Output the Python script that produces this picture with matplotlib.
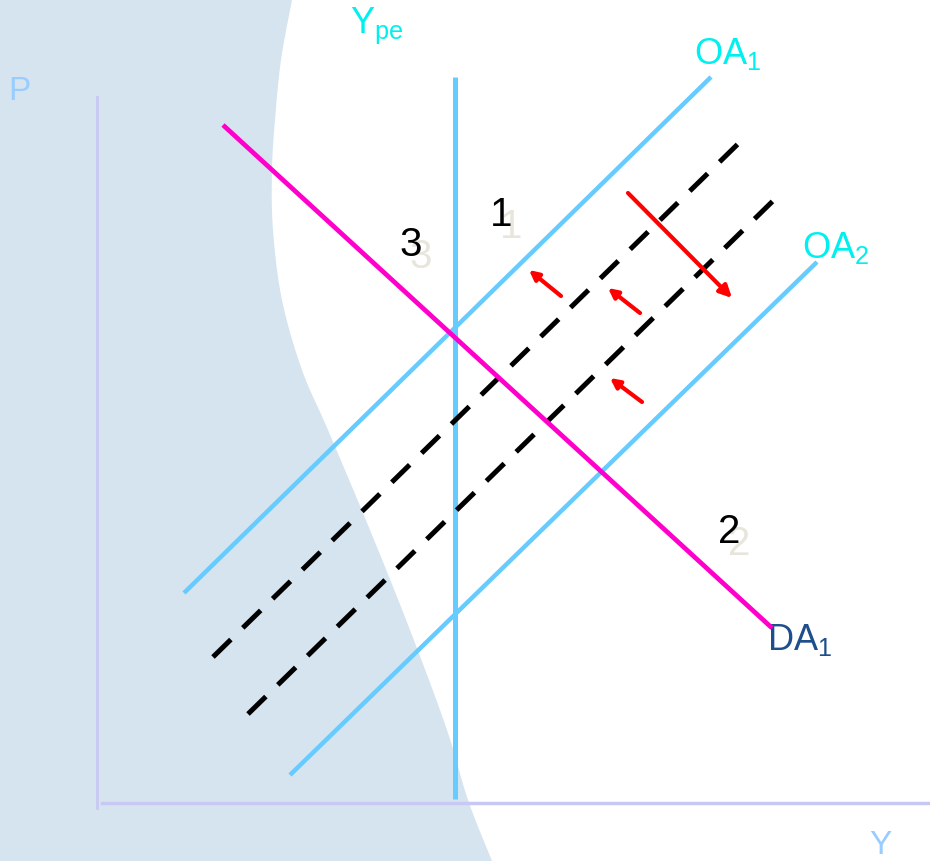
import matplotlib
matplotlib.use("Agg")
import matplotlib.pyplot as plt
import numpy as np

plt.rcParams['font.family'] = ['Liberation Sans', 'DejaVu Sans']
plt.rcParams['mathtext.fontset'] = 'custom'
plt.rcParams['mathtext.rm'] = 'Liberation Sans'
plt.rcParams['lines.scale_dashes'] = False

# ---- data (diagram units, y downward) ----
bg_edge_y = [0, 60, 120, 170, 230, 300, 370, 430, 530, 630, 730, 800, 861]
bg_edge_x = [292, 281, 275, 272, 273, 282, 302, 328, 370, 410, 447, 468, 492]

ype_x = [455, 455]
ype_y = [77, 799]
oa1_x = [184, 711]
oa1_y = [593, 77]
oa2_x = [290, 817]
oa2_y = [775, 262]
da1_x = [223, 772]
da1_y = [125, 628]
dash1_x = [213, 742]
dash1_y = [657, 140]
dash2_x = [248, 778]
dash2_y = [714, 196]

big_arrow = [(628, 193), (732, 298)]
small_arrows = [((561, 296), (529, 270)),
                ((640, 313), (608, 288)),
                ((642, 402), (610, 378))]


def catmull(xs, ys, n=20):
    pts = np.column_stack([xs, ys]).astype(float)
    pts = np.vstack([pts[0], pts, pts[-1]])
    out = []
    for i in range(1, len(pts) - 2):
        p0, p1, p2, p3 = pts[i - 1], pts[i], pts[i + 1], pts[i + 2]
        for t in np.linspace(0, 1, n, endpoint=False):
            t2, t3 = t * t, t * t * t
            out.append(0.5 * ((2 * p1) + (-p0 + p2) * t +
                              (2 * p0 - 5 * p1 + 4 * p2 - p3) * t2 +
                              (-p0 + 3 * p1 - 3 * p2 + p3) * t3))
    out.append(pts[-2])
    out = np.array(out)
    return out[:, 0], out[:, 1]


fig = plt.figure(figsize=(9.30, 8.61), dpi=100)
ax = fig.add_axes([0, 0, 1, 1])
ax.set_xlim(0, 930)
ax.set_ylim(861, 0)
ax.axis('off')

# background shape
cx, cy = catmull(bg_edge_x, bg_edge_y)
poly_x = np.concatenate([[0], cx, [0]])
poly_y = np.concatenate([[0], cy, [861]])
ax.fill(poly_x, poly_y, color='#d6e4f0', lw=0, zorder=0)

# axes
ax.plot([97, 97], [97, 808], color='#c8c8f4', lw=2, zorder=1)
ax.plot([102, 930], [803, 803], color='#c8c8f4', lw=2.5, zorder=1)
ax.text(8, 92, 'P', color='#99ccff', fontsize=24, va='center', ha='left')
ax.text(869, 846, 'Y', color='#99ccff', fontsize=24, va='center', ha='left')

lc = '#66ccff'
ax.plot(ype_x, ype_y, color=lc, lw=3.6, solid_capstyle='butt', zorder=2)
ax.plot(oa1_x, oa1_y, color=lc, lw=3.2, solid_capstyle='butt', zorder=2)
ax.plot(oa2_x, oa2_y, color=lc, lw=3.2, solid_capstyle='butt', zorder=2)
ax.plot(dash1_x, dash1_y, color='black', lw=3.6, dashes=(18, 12),
        dash_capstyle='butt', zorder=3)
ax.plot(dash2_x, dash2_y, color='black', lw=3.6, dashes=(18, 12),
        dash_capstyle='butt', zorder=3)
ax.plot(da1_x, da1_y, color='#ff00cc', lw=3.4, solid_capstyle='butt', zorder=4)

# arrows
ax.annotate('', xy=big_arrow[1], xytext=big_arrow[0],
            arrowprops=dict(arrowstyle='-|>', color='#ff0000', lw=3,
                            mutation_scale=18, shrinkA=0, shrinkB=0), zorder=5)
for s, e in small_arrows:
    ax.annotate('', xy=e, xytext=s,
                arrowprops=dict(arrowstyle='-|>', color='#ff0000', lw=3,
                                mutation_scale=14, shrinkA=0, shrinkB=0), zorder=5)

# labels
cyan = '#00f0f0'
ax.text(350, 26, r'$\mathregular{Y_{pe}}$', color=cyan, fontsize=26, va='center', ha='left')
ax.text(694, 54, r'$\mathregular{OA_1}$', color=cyan, fontsize=26, va='center', ha='left')
ax.text(802, 248, r'$\mathregular{OA_2}$', color=cyan, fontsize=26, va='center', ha='left')
ax.text(767, 640, r'$\mathregular{DA_1}$', color='#1f4e8c', fontsize=26, va='center', ha='left')

nums = ['1', '3', '2']
num_x = [501, 411, 729]
num_y = [215, 245, 532]
for n, x, y in zip(nums, num_x, num_y):
    ax.text(x + 10, y + 12, n, color='#e8e6dc', fontsize=29, va='center', ha='center', zorder=6)
    ax.text(x, y, n, color='black', fontsize=29, va='center', ha='center', zorder=7)

fig.savefig('out.png', dpi=100)
